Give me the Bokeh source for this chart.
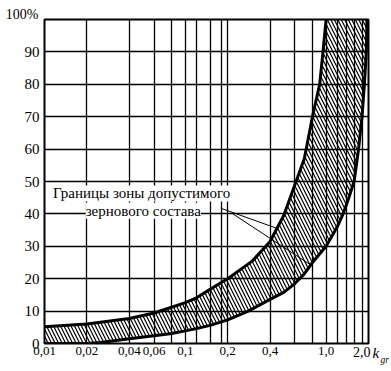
from bokeh.plotting import figure
from bokeh.models import FixedTicker, CustomJSTickFormatter, Label, Range1d
from bokeh.embed import file_html
from bokeh.resources import INLINE

# grid lines (log x axis) and labelled ticks
x_grid = [0.01, 0.02, 0.04, 0.06, 0.08, 0.1, 0.12, 0.15, 0.18, 0.2,
          0.4, 0.6, 0.8, 1.0, 1.2, 1.4, 1.6, 1.8, 2.0]
x_tick_values = [0.01, 0.02, 0.04, 0.06, 0.1, 0.2, 0.4, 1.0]
x_tick_labels = ["0,01", "0,02", "0,04", "0,06", "0,1", "0,2", "0,4", "1,0"]
y_tick_values = [0, 10, 20, 30, 40, 50, 60, 70, 80, 90, 100]
y_tick_labels = ["0", "10", "20", "30", "40", "50", "60", "70", "80", "90", ""]
x_end_label = "2,0"
x_unit_main = "k"
x_unit_sub = "gr"
y_top_label = "100%"

# upper (left) boundary of the admissible zone
upper_x = [0.01, 0.02, 0.04, 0.06, 0.08, 0.1, 0.12, 0.15, 0.18, 0.2,
           0.3, 0.4, 0.5, 0.6, 0.7, 0.8, 0.9, 0.95, 1.0]
upper_y = [5.2, 6.0, 7.7, 9.4, 11.2, 12.6, 14.1, 16.7, 18.8, 20.0,
           25.5, 31.5, 39.5, 49.0, 57.0, 70.0, 80.0, 90.0, 100.0]

# lower (right) boundary of the admissible zone
lower_x = [0.01, 0.02, 0.025, 0.04, 0.06, 0.08, 0.1, 0.12, 0.15, 0.2,
           0.28, 0.4, 0.5, 0.6, 0.7, 0.8, 1.0, 1.2, 1.32, 1.45, 1.58, 1.7,
           1.8, 1.87, 1.93, 1.95]
lower_y = [0.0, 0.0, 0.3, 1.5, 2.4, 3.1, 3.9, 4.6, 5.6, 7.3,
           10.0, 13.6, 15.8, 18.5, 21.5, 25.0, 30.0, 36.0, 40.0, 45.0, 50.0, 60.0,
           70.0, 80.0, 90.0, 100.0]

label_line1 = "Границы зоны допустимого"
label_line2 = "зернового состава"

FONT = "Liberation Serif"

p = figure(frame_width=324, frame_height=324,
           x_axis_type="log", x_range=Range1d(0.01, 2.0), y_range=Range1d(0, 100),
           output_backend="svg", toolbar_location=None,
           min_border_left=44, min_border_right=23, min_border_top=19, min_border_bottom=28)
p.background_fill_color = "white"
p.border_fill_color = "white"
p.outline_line_color = "black"
p.outline_line_width = 2

p.xaxis.ticker = FixedTicker(ticks=x_tick_values)
p.yaxis.ticker = FixedTicker(ticks=y_tick_values)
p.xgrid.ticker = FixedTicker(ticks=x_grid)
p.ygrid.ticker = FixedTicker(ticks=y_tick_values)

fmt_code = """
for (let i = 0; i < vals.length; i++) {
  if (Math.abs(vals[i] - tick) < 1e-9 * Math.max(1, Math.abs(tick))) return labs[i];
}
return "";
"""
p.xaxis.formatter = CustomJSTickFormatter(args=dict(vals=x_tick_values, labs=x_tick_labels), code=fmt_code)
p.yaxis.formatter = CustomJSTickFormatter(args=dict(vals=y_tick_values, labs=y_tick_labels), code=fmt_code)

for g in (p.xgrid, p.ygrid):
    g.grid_line_color = "black"
    g.grid_line_width = 1.3
    g.grid_line_alpha = 1.0

p.axis.axis_line_color = None
p.axis.major_tick_line_color = None
p.axis.minor_tick_line_color = None
p.axis.major_tick_out = 0
p.axis.major_tick_in = 0
p.axis.minor_tick_out = 0
p.axis.minor_tick_in = 0
p.axis.major_label_text_font = FONT
p.axis.major_label_text_color = "black"
p.xaxis.major_label_text_font_size = "13px"
p.yaxis.major_label_text_font_size = "15px"
p.xaxis.major_label_standoff = 3
p.yaxis.major_label_standoff = 5

# hatched zone
xs = upper_x + lower_x[::-1]
ys = upper_y + lower_y[::-1]
p.patch(xs, ys, fill_color="white", fill_alpha=0, line_color=None,
        hatch_pattern="\\", hatch_color="black", hatch_scale=7, hatch_weight=1.2)

p.line(upper_x, upper_y, line_color="black", line_width=3)
p.line(lower_x, lower_y, line_color="black", line_width=3)

# pointer lines from the caption to the two boundaries
p.segment(x0=[0.18, 0.216], y0=[41.7, 40.1], x1=[0.45, 0.78], y1=[35.5, 24.2],
          line_color="black", line_width=1)

p.add_layout(Label(x=0.049, y=46.3, text=label_line1, text_align="center", text_baseline="middle",
                   text_font=FONT, text_font_size="15px", text_color="black",
                   background_fill_color="white"))
p.add_layout(Label(x=0.0503, y=41.0, text=label_line2, text_align="center", text_baseline="middle",
                   text_font=FONT, text_font_size="15px", text_color="black",
                   background_fill_color="white"))

# texts outside the frame live in the side panels (not clipped there)
p.add_layout(Label(x=0.01, y=100, text=y_top_label, text_align="right", text_baseline="top",
                   x_offset=-6, y_offset=13, text_font=FONT, text_font_size="14px",
                   text_color="black"), "above")
p.add_layout(Label(x=2.0, y=0, text=x_end_label, text_align="right", text_baseline="top",
                   x_offset=2, y_offset=-3, text_font=FONT, text_font_size="14px",
                   text_color="black"), "left")
p.add_layout(Label(x=2.0, y=0, text=x_unit_main, text_align="left", text_baseline="top",
                   x_offset=4, y_offset=-1, text_font=FONT, text_font_size="15px",
                   text_font_style="italic", text_color="black"), "right")
p.add_layout(Label(x=2.0, y=0, text=x_unit_sub, text_align="left", text_baseline="top",
                   x_offset=12, y_offset=-11, text_font=FONT, text_font_size="9.5px",
                   text_font_style="italic", text_color="black"), "below")

open("out.html", "w").write(file_html(p, INLINE))
